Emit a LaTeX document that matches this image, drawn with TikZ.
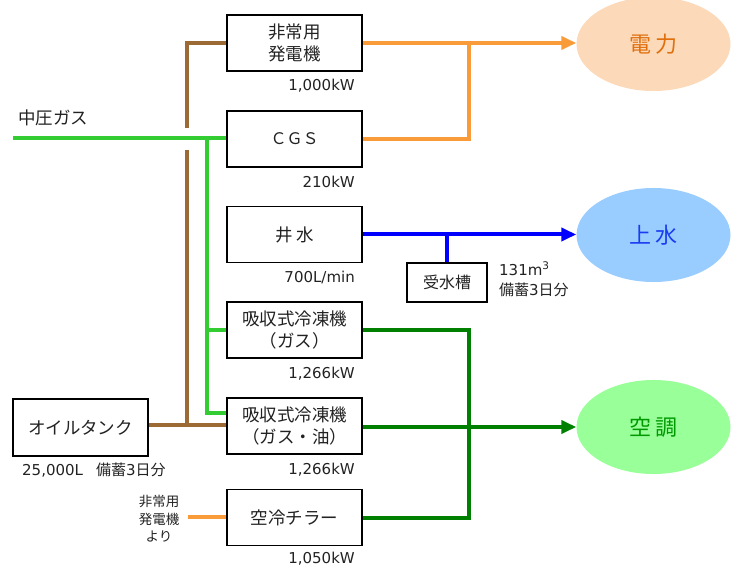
\documentclass[tikz,border=0pt]{standalone}
\usepackage{fontspec}
\setmainfont{DejaVu Sans}
\newfontfamily\jp{Noto Sans CJK JP}
\usetikzlibrary{arrows.meta,shapes.geometric}
\definecolor{cOrange}{HTML}{F99B38}
\definecolor{cBrown}{HTML}{9C6A35}
\definecolor{cGas}{HTML}{33CC33}
\definecolor{cDark}{HTML}{008000}
\definecolor{cBlue}{HTML}{0000FF}
\definecolor{fPower}{HTML}{FCD9B8}
\definecolor{tPower}{HTML}{E0700E}
\definecolor{fWater}{HTML}{99CCFF}
\definecolor{tWater}{HTML}{1A3CF0}
\definecolor{fAir}{HTML}{99FF99}
\definecolor{tAir}{HTML}{009A00}
\definecolor{cText}{HTML}{222222}
\begin{document}
\begin{tikzpicture}[x=1pt,y=-1pt,
  box/.style={draw=black,line width=1.5pt,fill=white,minimum width=135pt,minimum height=56pt,inner sep=0pt,align=center,font=\jp\fontsize{17.5}{22}\selectfont,text=cText},
  ell/.style={ellipse,minimum width=154pt,minimum height=94pt,inner sep=0pt,font=\jp\fontsize{22}{26}\selectfont},
  lab/.style={anchor=east,font=\fontsize{15}{18}\selectfont,text=cText,inner sep=0pt},
  pipe/.style={line width=4pt},
  arr/.style={line width=4pt,-{Triangle[length=15pt,width=13pt]}}
]
\useasboundingbox (0,0) rectangle (740,572);
% boxes
\node[box] (gen) at (294.5,43) {非常用\\発電機};
\node[box] (cgs) at (294.5,139) {\fontsize{16}{20}\selectfont ＣＧＳ};
\node[box] (well) at (294.5,234.5) {井 水};
\node[box] (abs1) at (294.5,330) {吸収式冷凍機\\（ガス）};
\node[box] (abs2) at (294.5,426) {吸収式冷凍機\\（ガス・油）};
\node[box] (chil) at (294.5,517.5) {空冷チラー};
\node[box,minimum height=57pt] (oil) at (80.5,427.5) {オイルタンク};
\node[box,minimum width=80pt,minimum height=39pt,font=\jp\fontsize{16}{20}\selectfont] (tank) at (447,282.5) {受水槽};
% ellipses
\node[ell,fill=fPower,text=tPower] (power) at (653.5,44) {電 力};
\node[ell,fill=fWater,text=tWater] (water) at (653.5,235) {上 水};
\node[ell,fill=fAir,text=tAir] (air) at (653.5,427) {空 調};
% labels
\node[lab] (l1) at (355,86) {1,000kW};
\node[lab] (l2) at (355,182) {210kW};
\node[lab] (l3) at (355,277) {700L/min};
\node[lab] (l4) at (355,374) {1,266kW};
\node[lab] (l5) at (355,470) {1,266kW};
\node[lab] (l6) at (355,559) {1,050kW};
\node[lab,anchor=west] (l7) at (22,470) {25,000L\hspace{13pt}{\jp 備蓄}3{\jp 日分}};
\node[lab,anchor=north west,align=left,font=\fontsize{15}{20}\selectfont] (l8) at (499,262) {131m\textsuperscript{3}\\{\jp 備蓄}3{\jp 日分}};
\node[anchor=west,inner sep=0pt,font=\jp\fontsize{17.5}{20}\selectfont,text=cText] (gaslab) at (18,118) {中圧ガス};
\node[inner sep=0pt,align=center,font=\jp\fontsize{13.5}{17.5}\selectfont,text=cText] (emsrc) at (159,519) {非常用\\発電機\\より};
% coordinates
\coordinate (gasS) at (13,138);
\coordinate (gv) at (207,138);
\coordinate (gb) at (207,413);
\coordinate (bt) at (187,43);
\coordinate (bgapT) at (187,128);
\coordinate (bgapB) at (187,150);
\coordinate (bb) at (187,425);
\coordinate (ov) at (469,43);
\coordinate (wv) at (447,234.5);
\coordinate (dv) at (469,427);
\coordinate (eS) at (188,517);
% gas (light green)
\draw[pipe,cGas] (gasS) -- (cgs.west |- gasS);
\draw[pipe,cGas] (gv) -- (gb) -- (abs2.west |- gb);
\draw[pipe,cGas] (gv |- abs1.west) -- (abs1.west);
% oil (brown)
\draw[pipe,cBrown] (gen.west) -- (bt) -- (bgapT);
\draw[pipe,cBrown] (bgapB) -- (bb);
\draw[pipe,cBrown] (oil.east |- bb) -- (abs2.west |- bb);
% electricity (orange)
\draw[arr,cOrange] (gen.east) -- (gen.east -| power.west);
\draw[pipe,cOrange] (cgs.east) -| (ov);
\draw[pipe,cOrange] (eS) -- (chil.west |- eS);
% water (blue)
\draw[arr,cBlue] (well.east) -- (well.east -| water.west);
\draw[pipe,cBlue] (wv) -- (tank.north);
% cooling (dark green)
\draw[pipe,cDark] (abs1.east) -| (dv |- chil.east) -- (chil.east);
\draw[arr,cDark] (abs2.east |- air.west) -- (air.west);
\end{tikzpicture}
\end{document}
